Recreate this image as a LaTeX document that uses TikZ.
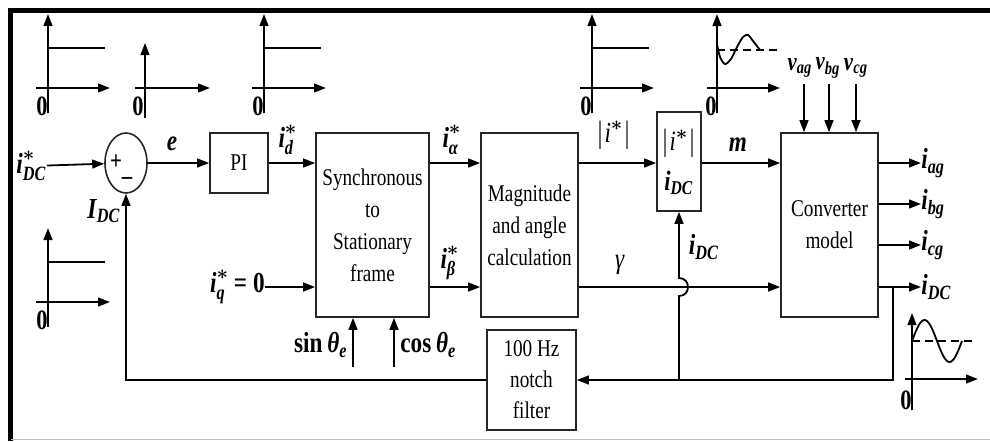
\documentclass[tikz,border=0pt]{standalone}
\usepackage{amsmath}
\usepackage{fontspec}
\setmainfont{Liberation Serif}[FakeStretch=0.8]
\usetikzlibrary{arrows.meta,positioning,calc,shapes.geometric}
\newcommand{\bi}[1]{\textbf{\textit{#1}}}
\newcommand{\st}{\boldsymbol{*}}

\begin{document}
\begin{tikzpicture}[x=.5pt,y=-.5pt,
    blk/.style={draw=black!85,line width=.8pt,inner sep=0pt,align=center,font=\fontsize{12}{16}\selectfont},
    lbl/.style={inner sep=0pt,font=\fontsize{14.5}{16}\selectfont},
    zero/.style={inner sep=0pt,font=\bfseries\fontsize{14}{14}\selectfont},
    sig/.style={line width=.9pt,-{Triangle[length=6pt,width=4.4pt]}},
    wire/.style={line width=.9pt}]
  \useasboundingbox (0,0) rectangle (990,441);
  \draw[line width=2.5pt] (990,10.5) -- (10.5,10.5) -- (10.5,441);
  \draw[black!25,line width=.6pt] (10.5,439.5) -- (990,439.5);
  % blocks
  \node[draw=black!85,line width=.8pt,ellipse,minimum width=21pt,minimum height=30pt,inner sep=0pt] (sum) at (126,163) {};
  \node[zero,font=\bfseries\fontsize{13}{13}\selectfont] (plus) at (116,162) {+};
  \node[zero,font=\bfseries\fontsize{13}{13}\selectfont] (minus) at (127,181) {\textendash};
  \node[blk,minimum width=29pt,minimum height=30pt] (pi) at (239,163) {PI};
  \node[blk,minimum width=56.5pt,minimum height=92pt] (sync) at (372.5,225) {Synchronous\\to\\Stationary\\frame};
  \node[blk,minimum width=48.5pt,minimum height=92pt] (mag) at (529.5,225) {Magnitude\\and angle\\calculation};
  \node[blk,minimum width=22pt,minimum height=49.5pt,font=\fontsize{14}{20}\selectfont] (ratio) at (679,161.5) {$|\textit{i}^{\st}|$\\$\bi{i}_{\bi{DC}}$};
  \node[blk,minimum width=48.5pt,minimum height=92pt] (conv) at (829.5,225) {Converter\\model};
  \node[blk,minimum width=44.5pt,minimum height=50pt,font=\fontsize{12}{15.5}\selectfont] (notch) at (531.5,380) {100 Hz\\notch\\filter};
  % labels
  \node[lbl,anchor=east] (idcref) at (47,166) {$\bi{i}^{\st}_{\bi{DC}}$};
  \node[lbl] (e) at (172,144) {\bi{e}};
  \node[lbl] (idref) at (288,140) {$\bi{i}^{\st}_{\bi{d}}$};
  \node[lbl,anchor=east] (iq) at (265,287) {$\bi{i}^{\st}_{\bi{q}}$\,\textbf{= 0}};
  \node[lbl] (ial) at (452,140) {$\bi{i}^{\st}_{\bi{α}}$};
  \node[lbl] (ibe) at (450,263) {$\bi{i}^{\st}_{\bi{β}}$};
  \node[lbl] (imag) at (614,135) {$|\textit{i}^{\st}|$};
  \node[lbl] (m) at (738,145) {\bi{m}};
  \node[lbl] (gam) at (620,265) {\textit{γ}};
  \node[lbl] (idcfb) at (704,247) {$\bi{i}_{\bi{DC}}$};
  \node[lbl] (Idc) at (104,211) {$\bi{I}_{\bi{DC}}$};
  \node[lbl,anchor=east] (sinl) at (348,345) {\textbf{sin\,\textit{θ}}$_{\bi{e}}$};
  \node[lbl,anchor=west] (cosl) at (400,345) {\textbf{cos\,\textit{θ}}$_{\bi{e}}$};
  \foreach \x/\n in {800/ag,828/bg,856/cg}
    \node[lbl,font=\fontsize{13}{15}\selectfont] (v\n) at (\x,68) {$\bi{v}_{\bi{\n}}$};
  \foreach \y/\n in {163/ag,204/bg,245/cg,287/DC}
    \node[lbl,anchor=west] (o\n) at (921,\y) {$\bi{i}_{\bi{\n}}$};
  % signals
  \draw[sig] (idcref) -- (sum);
  \draw[sig] (sum) -- (pi);
  \draw[sig] (pi) -- (pi -| sync.west);
  \draw[sig] (iq) -- (iq -| sync.west);
  \draw[sig] (sync.east |- pi) -- (mag.west |- pi);
  \draw[sig] (sync.east |- iq) -- (mag.west |- iq);
  \draw[sig] (mag.east |- pi) -- (ratio.west |- pi);
  \draw[sig] (ratio.east |- pi) -- (conv.west |- pi);
  \draw[sig] (mag.east |- iq) -- (conv.west |- iq);
  \coordinate (sinin) at (353,367);
  \coordinate (cosin) at (394,367);
  \draw[sig] (sinin) -- (sinin |- sync.south);
  \draw[sig] (cosin) -- (cosin |- sync.south);
  \foreach \x/\n in {804/ag,829/bg,856/cg}{
    \coordinate (vin\n) at (\x,84);
    \draw[sig] (vin\n) -- (vin\n |- conv.north);}
  \foreach \n in {ag,bg,cg,DC}
    \draw[sig] (conv.east |- o\n) -- (o\n);
  % feedback
  \coordinate (tap) at (893,287);
  \coordinate (fbcorner) at (893,380);
  \coordinate (br) at (679,380);
  \draw[sig] (tap) -- (fbcorner) -- (notch.east |- fbcorner);
  \draw[sig] (notch.west) -| (sum.south);
  \draw[sig] (br) -- ($(br |- iq)+(0,9)$) .. controls +(6pt,0) and +(6pt,0) .. ($(br |- iq)+(0,-9)$) -- (ratio.south);
  % step graphs
  \foreach \ox/\oy in {48/88,264/88,592/88,48/302}{
    \begin{scope}[shift={(\ox,\oy)}]
      \draw[sig] (0,25) -- (0,-74);
      \draw[sig] (-12,0) -- (62,0);
      \draw[wire] (0,-40) -- (57,-40);
      \node[zero] (z\ox\oy) at (-6,18) {0};
    \end{scope}}
  \begin{scope}[shift={(145,88)}]
    \draw[sig] (0,30) -- (0,-45);
    \draw[sig] (-10,0) -- (65,0);
    \node[zero] (zq) at (-7,18) {0};
  \end{scope}
  \begin{scope}[shift={(717,88)}]
    \draw[sig] (0,25) -- (0,-74);
    \draw[sig] (-10,0) -- (63,0);
    \draw[wire,dashed,dash pattern=on 4pt off 2.5pt] (0,-38) -- (61,-38);
    \draw[wire] plot[smooth] coordinates {(0,-44) (3,-31) (8,-24) (14,-29) (20,-41) (26,-51) (31,-53) (36,-47) (43,-38)};
    \node[zero] (zm) at (-6,18) {0};
  \end{scope}
  \begin{scope}[shift={(912,379)}]
    \draw[sig] (0,31) -- (0,-66);
    \draw[sig] (-7,0) -- (66,0);
    \draw[wire,dashed,dash pattern=on 4pt off 2.5pt] (0,-38) -- (63,-38);
    \draw[wire] plot[domain=0:50,samples=40,smooth] (\x,{-38-21*sin(7.2*\x)});
    \node[zero] (zdc) at (-6,21) {0};
  \end{scope}
\end{tikzpicture}
\end{document}
